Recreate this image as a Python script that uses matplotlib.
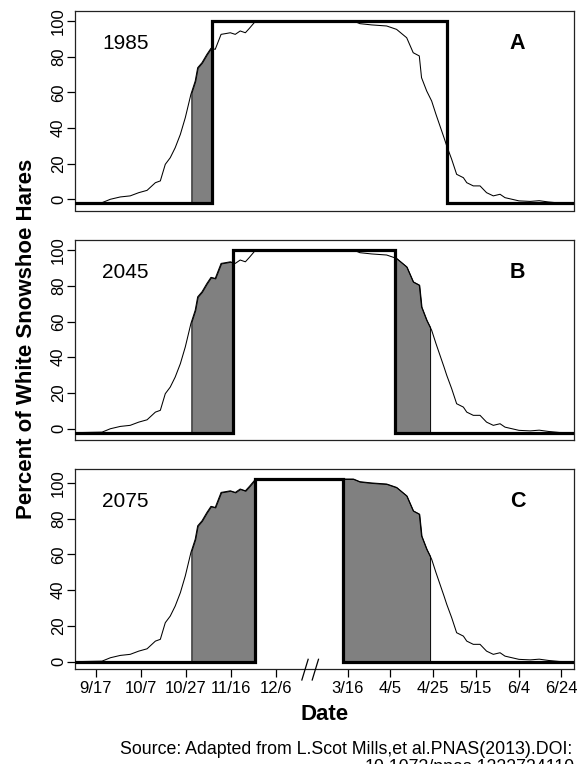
import numpy as np
import matplotlib
matplotlib.use("Agg")
import matplotlib.pyplot as plt
import matplotlib.transforms as mtransforms

plt.rcParams['font.family'] = ['Liberation Sans', 'DejaVu Sans']

# ------------------------------------------------------------
# data (x in plot days, 9/17 = 0; winter is compressed)
# ------------------------------------------------------------
tick_pos = [0, 20, 40, 60, 80, 111.9, 130.8, 149.9, 168.8, 187.9, 206.8]
tick_labels = ['9/17', '10/7', '10/27', '11/16', '12/6',
               '3/16', '4/5', '4/25', '5/15', '6/4', '6/24']

# percent of white hares (same molt curve in every panel)
curve_x = [-9.3, 2.7, 6.4, 10.8, 15.2, 19.0, 22.7, 26.4, 28.6, 30.8, 33.0,
           35.2, 37.5, 39.7, 42.2, 44.1, 45.2, 47.1, 49.3, 51.1, 53.0, 55.6,
           57.5, 59.7, 61.9, 64.1, 66.4, 68.2, 70.7, 74.0,
           114.4, 117.3, 122.5, 129.2, 133.6, 138.1, 141.0, 143.7, 144.7,
           147.0, 149.2, 151.1, 152.9, 154.7, 155.9, 158.1, 160.3, 163.3,
           164.8, 167.7, 170.7, 173.6, 176.6, 179.6, 181.8, 188.0, 193.0,
           197.0, 201.0, 206.0, 212.6]
curve_y = [-2.2, -1.9, 0.0, 1.3, 1.9, 3.7, 5.0, 9.3, 10.3, 19.6, 23.3,
           28.9, 36.4, 45.8, 58.9, 66.3, 73.8, 76.6, 81.3, 84.7, 84.1, 92.5,
           92.9, 93.4, 92.5, 94.4, 93.4, 95.9, 99.6, 100.0,
           100.0, 98.5, 97.8, 97.2, 95.3, 90.6, 82.2, 80.4, 68.2,
           60.7, 55.1, 47.7, 41.1, 34.5, 29.9, 22.4, 14.0, 12.1,
           9.3, 7.5, 7.5, 3.7, 1.9, 2.8, 0.9, -0.9, -1.2,
           -0.8, -1.5, -2.1, -2.2]

years = ['1985', '2045', '2075']
letters = ['A', 'B', 'C']
snow_on = [51.6, 60.7, 70.7]      # snow cover starts
snow_off = [155.9, 132.8, 109.9]  # snow cover ends
snow_low, snow_high = -2.2, 100.0
white_start, white_end = 42.4, 148.5  # hares counted as white
label_shift = [0, 0, 2.2]         # panel C axis is drawn 2.2 higher

xlim = (-9.33, 212.6)
ylim = (-6.3, 105.6)

# ------------------------------------------------------------
fig = plt.figure(figsize=(5.88, 7.64), dpi=100)
boxes = [(11, 210.5), (240, 440), (469, 669)]  # top/bottom in px
H = 764.0
left, right = 75 / 588, 574.3 / 588

cx = np.array(curve_x)
cy = np.array(curve_y)

for i, (top, bot) in enumerate(boxes):
    ax = fig.add_axes([left, 1 - bot / H, right - left, (bot - top) / H])

    # shaded mismatch: white hares without snow
    spans = []
    if snow_on[i] > white_start:
        spans.append((white_start, min(snow_on[i], white_end)))
    if snow_off[i] < white_end:
        spans.append((max(snow_off[i], white_start), white_end))
    for a, b in spans:
        xs = np.union1d(cx[(cx > a) & (cx < b)], [a, b])
        ys = np.interp(xs, cx, cy)
        ax.fill_between(xs, ys, snow_low, facecolor='#808080',
                        edgecolor='black', linewidth=0.7, zorder=1)

    ax.plot(cx, cy, color='black', lw=0.75, zorder=2)

    # snow cover step
    sx = [xlim[0] - 1, snow_on[i], snow_on[i], snow_off[i], snow_off[i], xlim[1] + 1]
    sy = [snow_low, snow_low, snow_high, snow_high, snow_low, snow_low]
    ax.plot(sx, sy, color='black', lw=2.3, solid_joinstyle='miter', zorder=3)

    ax.text(13, 87.4, years[i], fontsize=15, ha='center', va='center')
    ax.text(187.3, 87.4, letters[i], fontsize=15.5, fontweight='bold',
            ha='center', va='center')

    ax.set_xlim(*xlim)
    ax.set_ylim(*ylim)
    yt = np.arange(0, 101, 20)
    ax.set_yticks(yt - label_shift[i])
    ax.set_yticklabels([str(v) for v in yt], rotation=90, va='center')
    ax.tick_params(axis='y', length=5.5, width=0.9, pad=1, labelsize=12)

    if i == 2:
        ax.set_xticks(tick_pos)
        ax.set_xticklabels(tick_labels)
        ax.tick_params(axis='x', length=5.4, width=0.9, pad=3, labelsize=12)
        ax.set_xlabel('Date', fontsize=16, fontweight='bold', labelpad=6)
        # axis break marks
        trans = mtransforms.blended_transform_factory(ax.transData, ax.transAxes)
        for x0 in (91.5, 96.1):
            ax.plot([x0, x0 + 2.8], [-0.055, 0.0485], color='black', lw=0.9,
                    transform=trans, clip_on=False, zorder=5)
    else:
        ax.set_xticks([])

    for sp in ax.spines.values():
        sp.set_color('#222222')
        sp.set_linewidth(0.9)

fig.text(27 / 588, 1 - 338.5 / H, 'Percent of White Snowshoe Hares',
         rotation=90, fontsize=16, fontweight='bold', ha='center', va='center')

fig.text(0.973, 1 - 754 / H,
         'Source: Adapted from L.Scot Mills,et al.PNAS(2013).DOI:',
         fontsize=12.8, ha='right', va='baseline')
fig.text(0.978, 1 - 772.3 / H, '10.1073/pnas.1222724110',
         fontsize=12.8, ha='right', va='baseline')

fig.savefig('out.png', dpi=100)
